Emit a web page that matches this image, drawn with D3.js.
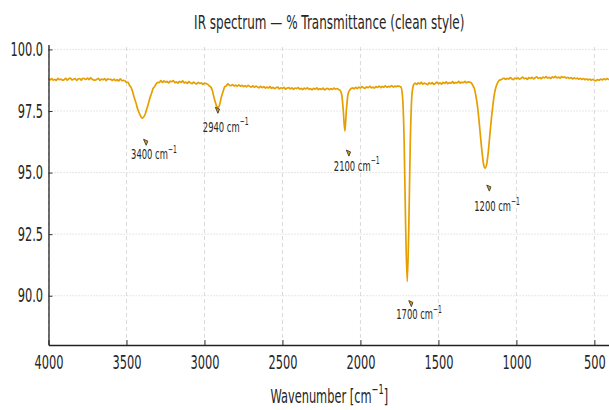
<!DOCTYPE html>
<html>
<head>
<meta charset="utf-8">
<script src="https://cdn.jsdelivr.net/npm/d3@7"></script>
<style>
  html, body { margin: 0; padding: 0; background: #ffffff; }
  svg { display: block; font-family: "DejaVu Sans", sans-serif; }
</style>
</head>
<body>
<svg id="chart" width="609" height="410"></svg>
<script>
// ---- data ---------------------------------------------------------------
const xTicks = [4000, 3500, 3000, 2500, 2000, 1500, 1000, 500];
const yTicks = [90.0, 92.5, 95.0, 97.5, 100.0];

// sampling grid of the spectrum (cm^-1), high to low
const wnStart = 4000, wnEnd = 400, wnStep = 10;

// % transmittance, one row per 100 cm^-1 (4000, 3990, ... 3910 / 3900 ...)
const transmittance = [
  98.81, 98.76, 98.82, 98.75, 98.79, 98.74, 98.83, 98.77, 98.80, 98.75,
  98.77, 98.83, 98.75, 98.81, 98.84, 98.76, 98.79, 98.82, 98.74, 98.80,
  98.82, 98.75, 98.83, 98.81, 98.78, 98.84, 98.77, 98.85, 98.79, 98.76,
  98.75, 98.79, 98.83, 98.74, 98.80, 98.77, 98.82, 98.73, 98.81, 98.78,
  98.79, 98.74, 98.80, 98.73, 98.77, 98.72, 98.81, 98.73, 98.74, 98.73,
  98.66, 98.66, 98.53, 98.45, 98.27, 98.04, 97.85, 97.61, 97.44, 97.30,
  97.21, 97.26, 97.37, 97.59, 97.78, 98.03, 98.20, 98.41, 98.49, 98.60,
  98.66, 98.65, 98.73, 98.66, 98.72, 98.67, 98.70, 98.64, 98.71, 98.69,
  98.73, 98.65, 98.68, 98.63, 98.70, 98.66, 98.72, 98.64, 98.67, 98.62,
  98.69, 98.65, 98.61, 98.67, 98.63, 98.60, 98.66, 98.62, 98.64, 98.58,
  98.63, 98.61, 98.59, 98.52, 98.48, 98.34, 98.08, 97.85, 97.67, 97.65,
  97.83, 98.11, 98.30, 98.49, 98.52, 98.60, 98.55, 98.53, 98.57, 98.52,
  98.55, 98.50, 98.56, 98.51, 98.54, 98.49, 98.53, 98.48, 98.54, 98.50,
  98.47, 98.52, 98.46, 98.51, 98.48, 98.44, 98.50, 98.45, 98.49, 98.43,
  98.47, 98.44, 98.49, 98.42, 98.46, 98.41, 98.45, 98.47, 98.40, 98.44,
  98.42, 98.46, 98.39, 98.43, 98.45, 98.40, 98.44, 98.38, 98.43, 98.41,
  98.45, 98.39, 98.42, 98.37, 98.43, 98.40, 98.44, 98.38, 98.41, 98.36,
  98.42, 98.39, 98.44, 98.37, 98.41, 98.38, 98.43, 98.36, 98.40, 98.42,
  98.37, 98.41, 98.38, 98.43, 98.39, 98.41, 98.37, 98.33, 98.16, 97.52,
  96.68, 97.54, 98.17, 98.34, 98.41, 98.44, 98.40, 98.46, 98.41, 98.47,
  98.43, 98.49, 98.44, 98.42, 98.48, 98.45, 98.50, 98.44, 98.47, 98.43,
  98.49, 98.46, 98.51, 98.45, 98.50, 98.47, 98.52, 98.46, 98.50, 98.48,
  98.53, 98.47, 98.51, 98.49, 98.52, 98.50, 98.47, 98.07, 96.31, 92.75,
  90.57, 92.78, 96.36, 98.14, 98.55, 98.63, 98.58, 98.64, 98.60, 98.66,
  98.59, 98.63, 98.61, 98.57, 98.64, 98.60, 98.65, 98.58, 98.62, 98.67,
  98.61, 98.64, 98.59, 98.66, 98.62, 98.68, 98.61, 98.65, 98.63, 98.69,
  98.62, 98.66, 98.64, 98.70, 98.63, 98.67, 98.65, 98.70, 98.64, 98.68,
  98.67, 98.65, 98.54, 98.42, 98.12, 97.72, 97.13, 96.45, 95.81, 95.32,
  95.18, 95.36, 95.86, 96.55, 97.22, 97.78, 98.23, 98.49, 98.65, 98.74,
  98.77, 98.80, 98.84, 98.78, 98.83, 98.79, 98.86, 98.81, 98.77, 98.84,
  98.80, 98.85, 98.79, 98.83, 98.88, 98.81, 98.84, 98.78, 98.86, 98.82,
  98.87, 98.80, 98.85, 98.89, 98.82, 98.86, 98.81, 98.88, 98.84, 98.90,
  98.83, 98.87, 98.82, 98.89, 98.85, 98.91, 98.84, 98.88, 98.83, 98.90,
  98.86, 98.89, 98.83, 98.87, 98.82, 98.86, 98.80, 98.85, 98.81, 98.84,
  98.79, 98.83, 98.78, 98.82, 98.77, 98.81, 98.76, 98.80, 98.75, 98.79,
  98.74, 98.73, 98.78, 98.75, 98.80, 98.76, 98.81, 98.77, 98.82, 98.78,
  98.80
];

// band annotations
const annWn      = [3400, 2940, 2100, 1700, 1200];
const annMarkerT = [96.23, 97.53, 95.79, 89.68, 94.37];
const annLabelT  = [95.55, 96.66, 95.08, 89.05, 93.42];

// ---- layout -------------------------------------------------------------
const SX = 0.6;               // horizontal squeeze applied to all text
const INK = "#262626";
const LINE = "#E69F00";

const svg = d3.select("#chart");
const x = d3.scaleLinear().domain([4000, 400]).range([48.5, 610]);
const y = d3.scaleLinear().domain([88, 100.2]).range([345, 44.5]);

const spectrum = d3.range(wnStart, wnEnd - 1, -wnStep)
  .map((wn, i) => ({ wn, t: transmittance[i] }));

// grid
svg.append("g").selectAll("line").data(yTicks).join("line")
  .attr("x1", x(4000)).attr("x2", x(400))
  .attr("y1", d => y(d)).attr("y2", d => y(d))
  .attr("stroke", "#cccccc").attr("stroke-width", 0.8)
  .attr("stroke-dasharray", "1.2,1.8");

svg.append("g").selectAll("line").data(xTicks).join("line")
  .attr("x1", d => x(d)).attr("x2", d => x(d))
  .attr("y1", y(88)).attr("y2", y(100.2))
  .attr("stroke", "#d0d0d0").attr("stroke-width", 0.8)
  .attr("stroke-dasharray", "4,3");

// spectrum
svg.append("path")
  .datum(spectrum)
  .attr("fill", "none")
  .attr("stroke", LINE)
  .attr("stroke-width", 1.7)
  .attr("stroke-linejoin", "round")
  .attr("d", d3.line().x(d => x(d.wn)).y(d => y(d.t)).curve(d3.curveMonotoneX));

// axes
const gx = svg.append("g").attr("transform", `translate(0,${y(88)})`)
  .call(d3.axisBottom(x).tickValues(xTicks).tickFormat(d3.format("d"))
    .tickSize(-5).tickSizeOuter(0).tickPadding(11));
gx.select(".domain").attr("stroke", "#222").attr("stroke-width", 1.6);
gx.selectAll(".tick line").attr("stroke", "#333").attr("stroke-width", 1);
gx.selectAll(".tick text")
  .attr("font-size", 19).attr("font-family", "DejaVu Sans").attr("fill", INK)
  .attr("transform", `scale(${SX},1)`);

const gy = svg.append("g").attr("transform", `translate(${x(4000)},0)`)
  .call(d3.axisLeft(y).tickValues(yTicks).tickFormat(d3.format(".1f"))
    .tickSize(-4).tickSizeOuter(0));
gy.select(".domain").attr("stroke", "#222").attr("stroke-width", 1.3);
gy.selectAll(".tick line").attr("stroke", "#333").attr("stroke-width", 1);
gy.selectAll(".tick text")
  .attr("font-size", 19).attr("font-family", "DejaVu Sans").attr("fill", INK)
  .attr("x", -5.5 / SX)
  .attr("transform", `scale(${SX},1)`);

// squeezed text helper: base text plus optional superscript and tail
function squeezedText(px, py, size, anchor, main, sup, tail) {
  const t = svg.append("text")
    .attr("transform", `translate(${px},${py}) scale(${SX},1)`)
    .attr("text-anchor", anchor)
    .attr("font-size", size)
    .attr("fill", INK);
  t.append("tspan").text(main);
  if (sup) {
    t.append("tspan").attr("font-size", size * 0.72).attr("dy", -size * 0.45).text(sup);
    if (tail) t.append("tspan").attr("dy", size * 0.45).text(tail);
  }
  return t;
}

// title and axis label
squeezedText((x(4000) + x(400)) / 2, 29, 20, "middle", "IR spectrum \u2014 % Transmittance (clean style)");
squeezedText((x(4000) + x(400)) / 2, 403, 19, "middle", "Wavenumber [cm", "\u22121", "]");

// annotations: small arrowhead plus wavenumber label
annWn.forEach((wn, i) => {
  svg.append("path")
    .attr("transform", `translate(${x(wn) + 3.5},${y(annMarkerT[i])})`)
    .attr("d", "M-2,-3 L2.2,-1.2 L0.6,3 Z")
    .attr("fill", LINE).attr("stroke", "#3a3a3a").attr("stroke-width", 0.9)
    .attr("stroke-linejoin", "round");
  squeezedText(x(wn) - 11, y(annLabelT[i]), 14, "start", `${wn} cm`, "\u22121");
});
</script>
</body>
</html>
